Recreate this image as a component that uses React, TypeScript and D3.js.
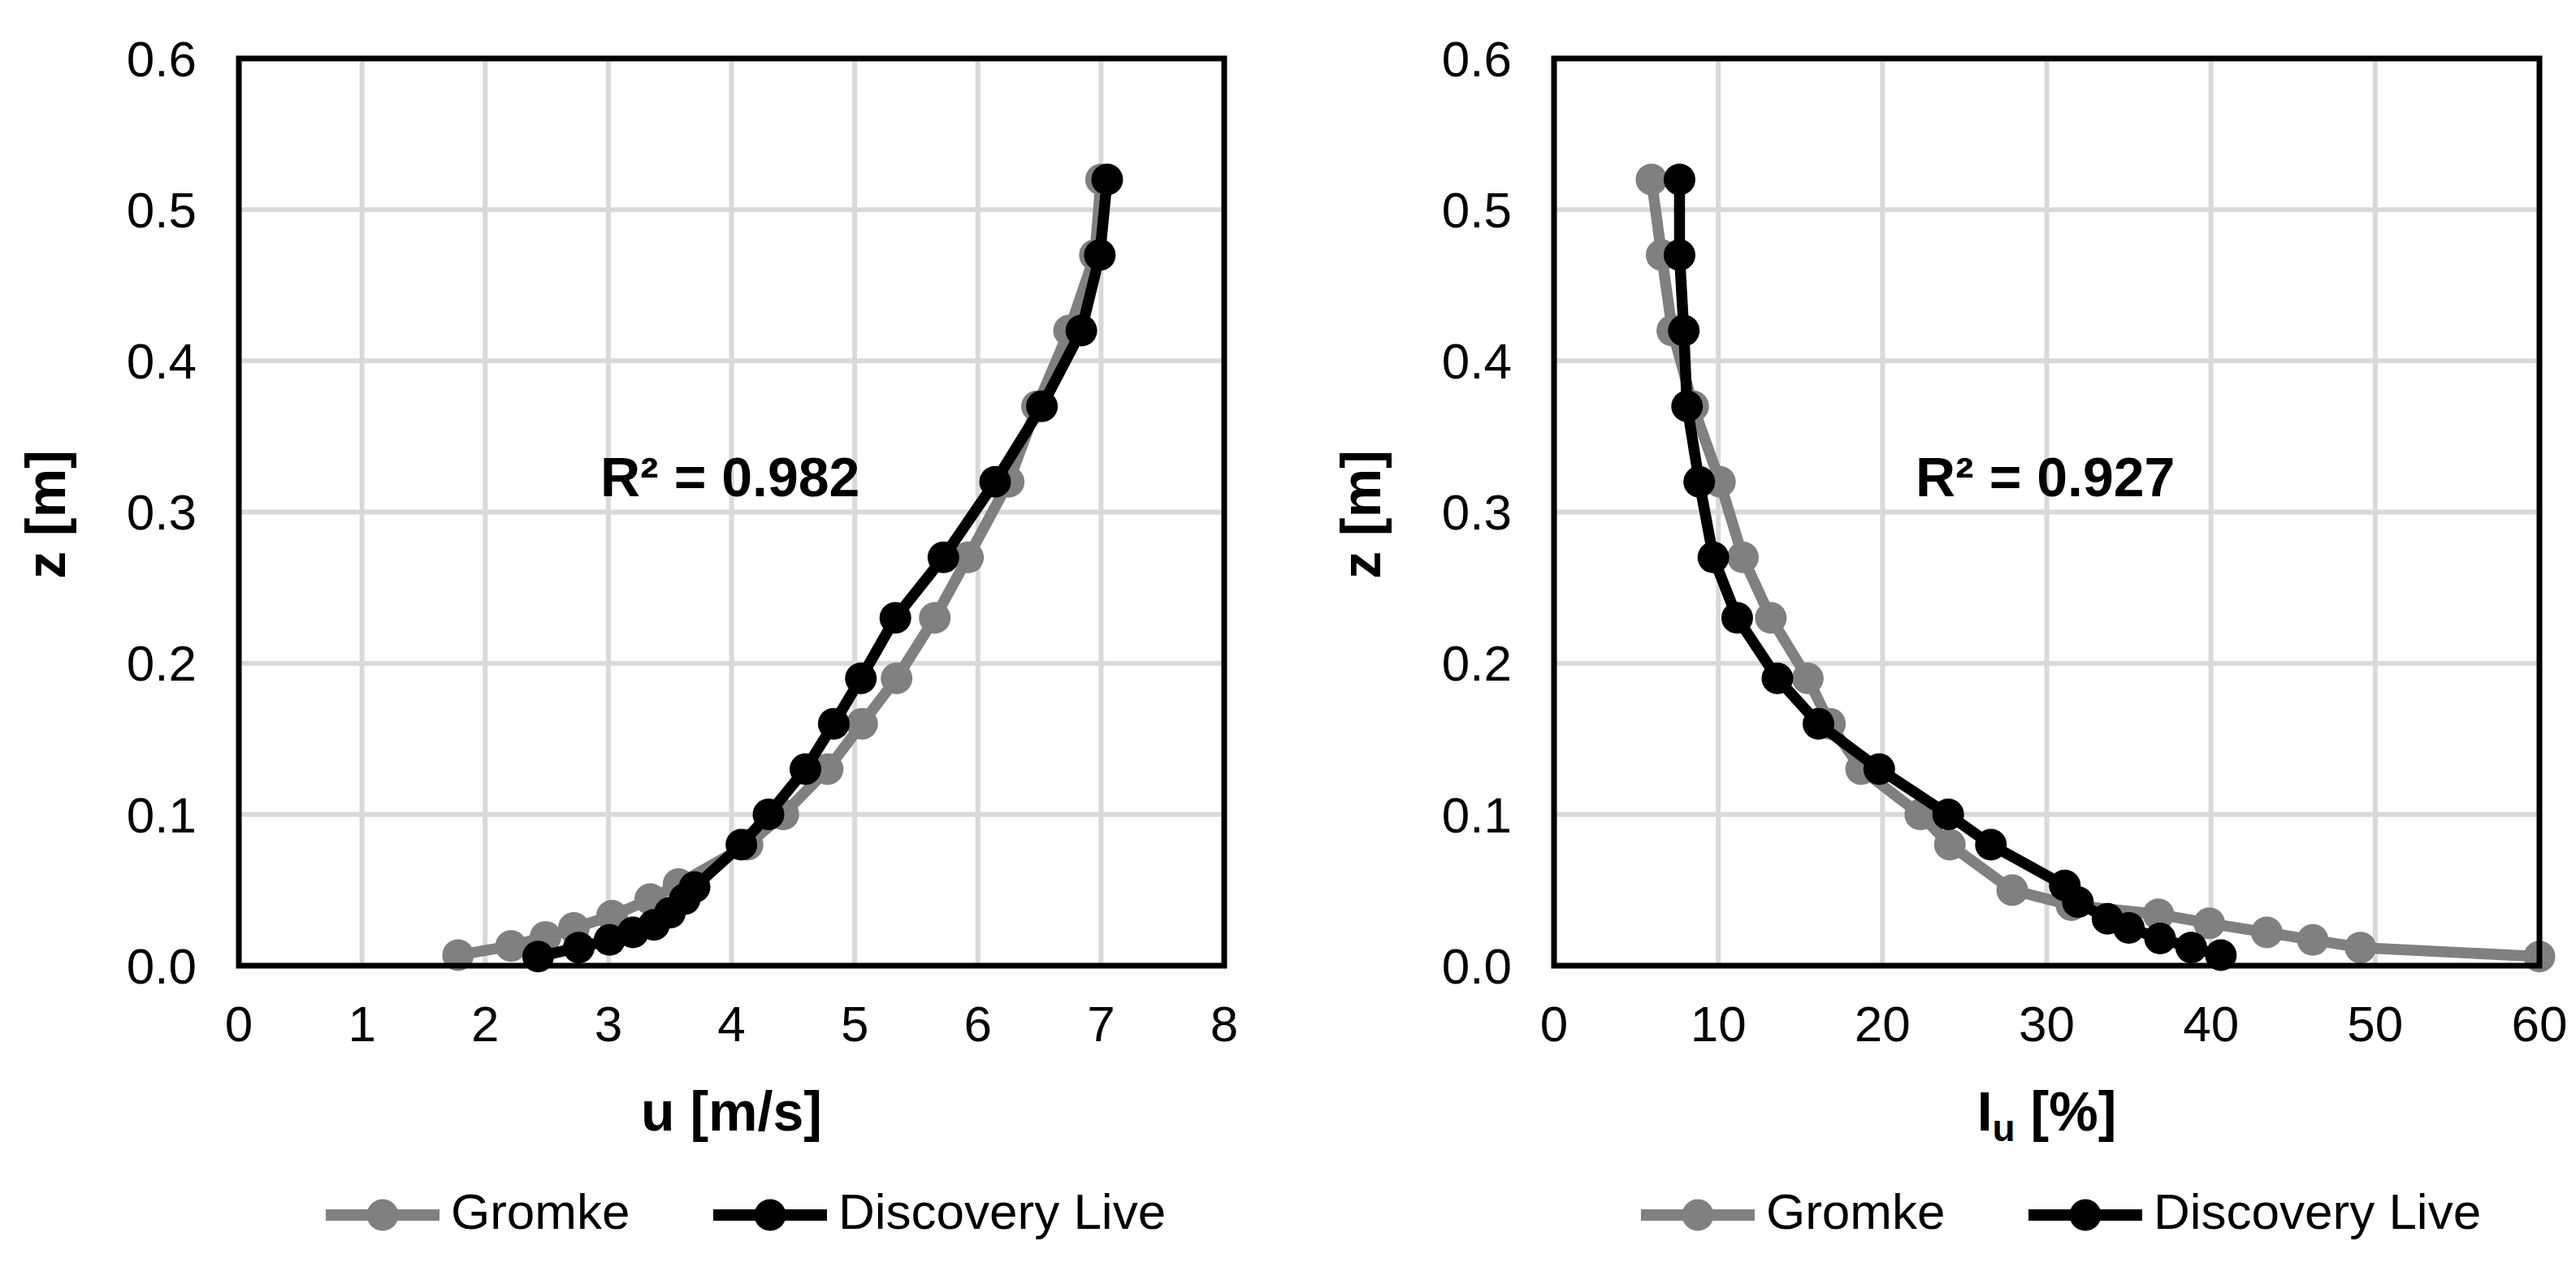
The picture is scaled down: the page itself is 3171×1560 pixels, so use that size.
import * as d3 from 'd3'

// shared height axis
const zTicks = [0, 0.1, 0.2, 0.3, 0.4, 0.5, 0.6]
const uTicks = [0, 1, 2, 3, 4, 5, 6, 7, 8]
const iuTicks = [0, 10, 20, 30, 40, 50, 60]

// left panel: mean velocity u [m/s]
const gromkeUz = [0.007, 0.013, 0.019, 0.025, 0.033, 0.044, 0.054, 0.08, 0.1, 0.13, 0.16, 0.19, 0.23, 0.27, 0.32, 0.37, 0.42, 0.47, 0.52]
const gromkeU = [1.78, 2.21, 2.49, 2.72, 3.03, 3.34, 3.57, 4.13, 4.42, 4.78, 5.06, 5.34, 5.65, 5.92, 6.25, 6.48, 6.74, 6.95, 7.0]
const discoveryUz = [0.006, 0.012, 0.017, 0.022, 0.027, 0.035, 0.044, 0.052, 0.08, 0.1, 0.13, 0.16, 0.19, 0.23, 0.27, 0.32, 0.37, 0.42, 0.47, 0.52]
const discoveryU = [2.43, 2.76, 3.01, 3.2, 3.37, 3.5, 3.62, 3.7, 4.08, 4.3, 4.6, 4.83, 5.05, 5.33, 5.72, 6.14, 6.52, 6.84, 6.99, 7.05]

// right panel: turbulence intensity Iu [%]
const gromkeIz = [0.006, 0.012, 0.017, 0.022, 0.028, 0.034, 0.04, 0.05, 0.08, 0.1, 0.13, 0.16, 0.19, 0.23, 0.27, 0.32, 0.37, 0.42, 0.47, 0.52]
const gromkeI = [60, 49.1, 46.2, 43.4, 39.9, 36.8, 31.5, 27.9, 24.1, 22.3, 18.7, 16.8, 15.45, 13.2, 11.5, 10.1, 8.47, 7.2, 6.55, 5.93]
const discoveryIz = [0.007, 0.012, 0.018, 0.025, 0.031, 0.042, 0.053, 0.08, 0.1, 0.13, 0.16, 0.19, 0.23, 0.27, 0.32, 0.37, 0.42, 0.47, 0.52]
const discoveryI = [40.6, 38.8, 36.9, 35.0, 33.7, 31.9, 31.1, 26.6, 24.0, 19.8, 16.1, 13.6, 11.15, 9.7, 8.84, 8.1, 7.9, 7.64, 7.64]

const r2Labels = ['R² = 0.982', 'R² = 0.927']
const seriesNames = ['Gromke', 'Discovery Live']

const W = 3171
const H = 1560
const PLOT_W = 1213
const TOP = 72
const BOTTOM = 1189
const FONT = 'Liberation Sans, Arial, Helvetica, sans-serif'
const GRAY = '#808080'

type Pt = [number, number]

const zip = (xs: number[], zs: number[]): Pt[] => xs.map((v, i) => [v, zs[i]])

interface PanelProps {
  left: number
  xMax: number
  xTicks: number[]
  gromke: Pt[]
  discovery: Pt[]
  r2: string
  xTitle: React.ReactNode
}

function Panel({ left, xMax, xTicks, gromke, discovery, r2, xTitle }: PanelProps) {
  const x = d3.scaleLinear().domain([0, xMax]).range([left, left + PLOT_W])
  const y = d3.scaleLinear().domain([0, 0.6]).range([BOTTOM, TOP])
  const line = d3.line<Pt>().x(d => x(d[0])).y(d => y(d[1]))
  const fmt = d3.format('.1f')
  const cx = left + PLOT_W / 2
  const cy = (TOP + BOTTOM) / 2

  const series = [
    { name: seriesNames[0], color: GRAY, data: gromke },
    { name: seriesNames[1], color: '#000', data: discovery },
  ]
  const legendY = 1496
  const legendOffsets = [107, 584]

  return (
    <g>
      {/* grid */}
      {xTicks.slice(1, -1).map(t => (
        <line key={'gx' + t} x1={x(t)} x2={x(t)} y1={TOP} y2={BOTTOM} stroke="#d9d9d9" strokeWidth={6} />
      ))}
      {zTicks.slice(1, -1).map(t => (
        <line key={'gy' + t} x1={left} x2={left + PLOT_W} y1={y(t)} y2={y(t)} stroke="#d9d9d9" strokeWidth={6} />
      ))}

      {/* series */}
      {series.map(s => (
        <g key={s.name}>
          <path d={line(s.data) ?? ''} fill="none" stroke={s.color} strokeWidth={13.5} strokeLinejoin="round" />
          {s.data.map((d, i) => (
            <circle key={i} cx={x(d[0])} cy={y(d[1])} r={19.5} fill={s.color} />
          ))}
        </g>
      ))}

      {/* frame */}
      <rect x={left} y={TOP} width={PLOT_W} height={BOTTOM - TOP} fill="none" stroke="#000" strokeWidth={7} />

      {/* tick labels */}
      {zTicks.map(t => (
        <text key={'ty' + t} x={left - 52} y={y(t)} dy="0.35em" textAnchor="end" fontSize={62} fontFamily={FONT}>
          {fmt(t)}
        </text>
      ))}
      {xTicks.map(t => (
        <text key={'tx' + t} x={x(t)} y={BOTTOM + 93} textAnchor="middle" fontSize={62} fontFamily={FONT}>
          {t}
        </text>
      ))}

      {/* axis titles */}
      <text x={cx} y={BOTTOM + 203} textAnchor="middle" fontSize={68} fontWeight="bold" fontFamily={FONT}>
        {xTitle}
      </text>
      <text
        transform={`translate(${left - 214},${cy + 3}) rotate(-90)`}
        textAnchor="middle"
        fontSize={68}
        fontWeight="bold"
        fontFamily={FONT}
      >
        z [m]
      </text>

      {/* R² annotation */}
      <text x={left + 445} y={611} fontSize={68} fontWeight="bold" fontFamily={FONT}>
        {r2}
      </text>

      {/* legend */}
      {series.map((s, i) => {
        const lx = left + legendOffsets[i]
        return (
          <g key={'lg' + s.name}>
            <line x1={lx} x2={lx + 140} y1={legendY} y2={legendY} stroke={s.color} strokeWidth={14} />
            <circle cx={lx + 70} cy={legendY} r={19.5} fill={s.color} />
            <text x={lx + 154} y={legendY + 17} fontSize={62} fontFamily={FONT}>
              {s.name}
            </text>
          </g>
        )
      })}
    </g>
  )
}

export default function App() {
  return (
    <svg
      width={W}
      height={H}
      viewBox={`0 0 ${W} ${H}`}
      style={{ position: 'absolute', left: 0, top: 0, background: '#fff' }}
    >
      <rect width={W} height={H} fill="#fff" />
      <Panel
        left={294}
        xMax={8}
        xTicks={uTicks}
        gromke={zip(gromkeU, gromkeUz)}
        discovery={zip(discoveryU, discoveryUz)}
        r2={r2Labels[0]}
        xTitle="u [m/s]"
      />
      <Panel
        left={1913}
        xMax={60}
        xTicks={iuTicks}
        gromke={zip(gromkeI, gromkeIz)}
        discovery={zip(discoveryI, discoveryIz)}
        r2={r2Labels[1]}
        xTitle={
          <>
            I<tspan fontSize={46} dy={13}>u</tspan>
            <tspan dy={-13}> [%]</tspan>
          </>
        }
      />
    </svg>
  )
}
